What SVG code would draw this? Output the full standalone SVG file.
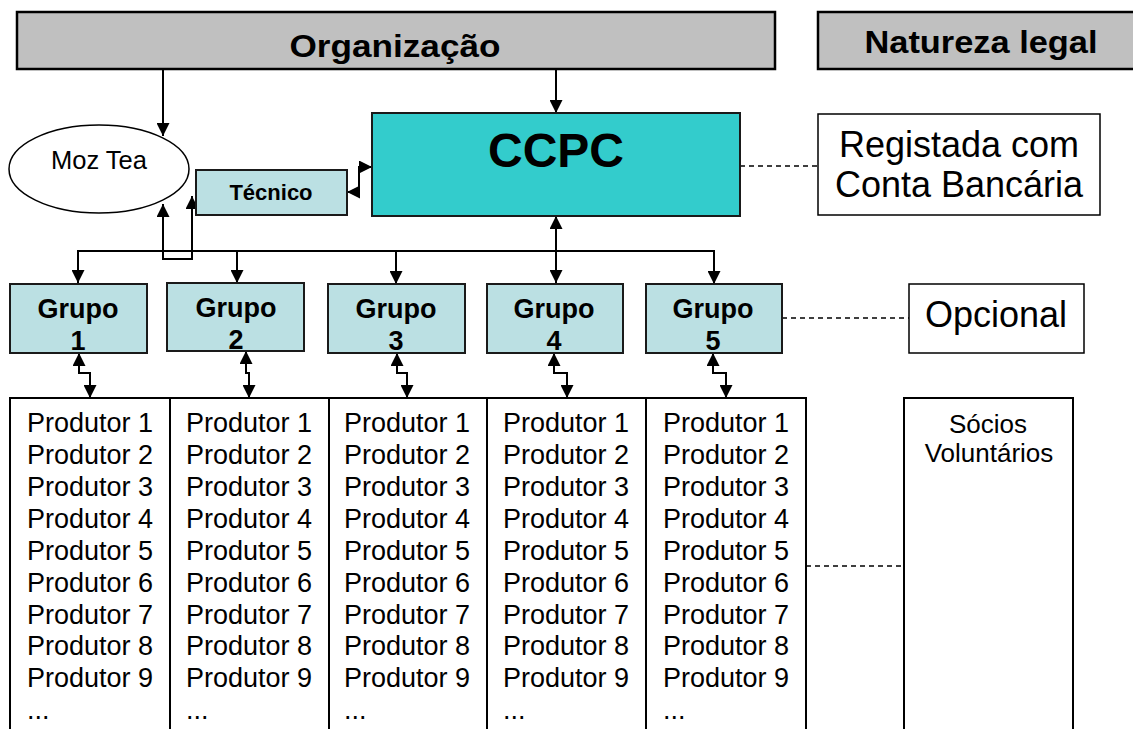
<svg xmlns="http://www.w3.org/2000/svg" width="1133" height="729" viewBox="0 0 1133 729">
  <style>
    .hdr { fill: #c0c0c0; stroke: #000; stroke-width: 2.5; }
    .main { fill: #33cccc; stroke: #1a1a1a; stroke-width: 2; }
    .sub { fill: #bbe0e3; stroke: #1a1a1a; stroke-width: 2; }
    .plain { fill: #fff; stroke: #000; stroke-width: 1.5; }
    .col { fill: #fff; stroke: #000; stroke-width: 2; }
    .con { fill: none; stroke: #000; stroke-width: 2; }
    .dash { fill: none; stroke: #000; stroke-width: 1.5; stroke-dasharray: 5 4; }
    text { font-family: "Liberation Sans", Arial, sans-serif; fill: #000; }
    .b { font-weight: bold; }
    .mid { text-anchor: middle; }
    .prod { font-size: 27px; }
    .grp { font-size: 27px; font-weight: bold; text-anchor: middle; }
  </style>
  <defs>
    <marker id="arrow" viewBox="0 0 12 12" refX="12" refY="6" markerWidth="13" markerHeight="13" markerUnits="userSpaceOnUse" orient="auto-start-reverse">
      <path d="M0,0 L12,6 L0,12 z" fill="#000"/>
    </marker>
  </defs>

  <!-- header bars -->
  <g id="organizacao">
    <rect class="hdr" x="17" y="12" width="758" height="57"/>
    <text class="b mid" x="395" y="57" font-size="32" textLength="211" lengthAdjust="spacingAndGlyphs">Organização</text>
  </g>
  <g id="natureza-legal">
    <rect class="hdr" x="818" y="12" width="320" height="57"/>
    <text class="b mid" x="981" y="53" font-size="31" textLength="233" lengthAdjust="spacingAndGlyphs">Natureza legal</text>
  </g>

  <!-- connectors -->
  <g id="connectors">
    <path class="con" d="M163,69 V136" marker-end="url(#arrow)"/>
    <path class="con" d="M556,69 V113" marker-end="url(#arrow)"/>
    <path class="con" d="M347,192 H359 V167 H372" marker-start="url(#arrow)" marker-end="url(#arrow)"/>
    <path class="con" d="M163,204 V259 H192 V196" marker-start="url(#arrow)" marker-end="url(#arrow)"/>
    <path class="con" d="M78,251 H714"/>
    <path class="con" d="M556,216 V283" marker-start="url(#arrow)" marker-end="url(#arrow)"/>
    <path class="con" d="M78,250 V283" marker-end="url(#arrow)"/>
    <path class="con" d="M237,250 V283" marker-end="url(#arrow)"/>
    <path class="con" d="M396,250 V284" marker-end="url(#arrow)"/>
    <path class="con" d="M714,250 V284" marker-end="url(#arrow)"/>
    <path class="con" d="M79,353 V373 H90 V398" marker-start="url(#arrow)" marker-end="url(#arrow)"/>
    <path class="con" d="M246,351 V373 H249 V398" marker-start="url(#arrow)" marker-end="url(#arrow)"/>
    <path class="con" d="M397,353 V373 H407 V398" marker-start="url(#arrow)" marker-end="url(#arrow)"/>
    <path class="con" d="M554,353 V373 H567 V398" marker-start="url(#arrow)" marker-end="url(#arrow)"/>
    <path class="con" d="M713,353 V373 H726 V398" marker-start="url(#arrow)" marker-end="url(#arrow)"/>
    <path class="dash" d="M740,166 H818"/>
    <path class="dash" d="M782,318 H909"/>
    <path class="dash" d="M806,566 H904"/>
  </g>

  <g id="moz-tea">
    <ellipse cx="99" cy="169" rx="90" ry="44" fill="#fff" stroke="#000" stroke-width="1.5"/>
    <text class="mid" x="99" y="169" font-size="25" textLength="96" lengthAdjust="spacingAndGlyphs">Moz Tea</text>
  </g>
  <g id="tecnico">
    <rect class="sub" x="196" y="170" width="151" height="45"/>
    <text class="b mid" x="271" y="200" font-size="22">Técnico</text>
  </g>
  <g id="ccpc">
    <rect class="main" x="372" y="113" width="368" height="103"/>
    <text class="b mid" x="556" y="167" font-size="48">CCPC</text>
  </g>
  <g id="registada">
    <rect class="plain" x="818" y="114" width="282" height="101"/>
    <text class="mid" x="959" y="157" font-size="36">Registada com</text>
    <text class="mid" x="959" y="197" font-size="36">Conta Bancária</text>
  </g>

  <g id="grupo-1">
    <rect class="sub" x="10" y="284" width="137" height="69"/>
    <text class="grp" x="78" y="318">Grupo</text>
    <text class="grp" x="78" y="350">1</text>
  </g>
  <g id="grupo-2">
    <rect class="sub" x="167" y="283" width="137" height="68"/>
    <text class="grp" x="236" y="317">Grupo</text>
    <text class="grp" x="236" y="349">2</text>
  </g>
  <g id="grupo-3">
    <rect class="sub" x="328" y="284" width="137" height="69"/>
    <text class="grp" x="396" y="318">Grupo</text>
    <text class="grp" x="396" y="350">3</text>
  </g>
  <g id="grupo-4">
    <rect class="sub" x="487" y="284" width="136" height="69"/>
    <text class="grp" x="554" y="318">Grupo</text>
    <text class="grp" x="554" y="350">4</text>
  </g>
  <g id="grupo-5">
    <rect class="sub" x="646" y="284" width="136" height="69"/>
    <text class="grp" x="713" y="318">Grupo</text>
    <text class="grp" x="713" y="350">5</text>
  </g>
  <g id="opcional">
    <rect class="plain" x="909" y="284" width="175" height="69"/>
    <text class="mid" x="996" y="327" font-size="36">Opcional</text>
  </g>

  <g id="produtores-1">
    <rect class="col" x="10" y="398" width="160" height="345"/>
    <text class="prod" x="27" y="432">Produtor 1</text>
    <text class="prod" x="27" y="464">Produtor 2</text>
    <text class="prod" x="27" y="496">Produtor 3</text>
    <text class="prod" x="27" y="528">Produtor 4</text>
    <text class="prod" x="27" y="560">Produtor 5</text>
    <text class="prod" x="27" y="592">Produtor 6</text>
    <text class="prod" x="27" y="624">Produtor 7</text>
    <text class="prod" x="27" y="655">Produtor 8</text>
    <text class="prod" x="27" y="687">Produtor 9</text>
    <text class="prod" x="27" y="719">...</text>
  </g>
  <g id="produtores-2">
    <rect class="col" x="170" y="398" width="159" height="345"/>
    <text class="prod" x="186" y="432">Produtor 1</text>
    <text class="prod" x="186" y="464">Produtor 2</text>
    <text class="prod" x="186" y="496">Produtor 3</text>
    <text class="prod" x="186" y="528">Produtor 4</text>
    <text class="prod" x="186" y="560">Produtor 5</text>
    <text class="prod" x="186" y="592">Produtor 6</text>
    <text class="prod" x="186" y="624">Produtor 7</text>
    <text class="prod" x="186" y="655">Produtor 8</text>
    <text class="prod" x="186" y="687">Produtor 9</text>
    <text class="prod" x="186" y="719">...</text>
  </g>
  <g id="produtores-3">
    <rect class="col" x="329" y="398" width="158" height="345"/>
    <text class="prod" x="344" y="432">Produtor 1</text>
    <text class="prod" x="344" y="464">Produtor 2</text>
    <text class="prod" x="344" y="496">Produtor 3</text>
    <text class="prod" x="344" y="528">Produtor 4</text>
    <text class="prod" x="344" y="560">Produtor 5</text>
    <text class="prod" x="344" y="592">Produtor 6</text>
    <text class="prod" x="344" y="624">Produtor 7</text>
    <text class="prod" x="344" y="655">Produtor 8</text>
    <text class="prod" x="344" y="687">Produtor 9</text>
    <text class="prod" x="344" y="719">...</text>
  </g>
  <g id="produtores-4">
    <rect class="col" x="487" y="398" width="159" height="345"/>
    <text class="prod" x="503" y="432">Produtor 1</text>
    <text class="prod" x="503" y="464">Produtor 2</text>
    <text class="prod" x="503" y="496">Produtor 3</text>
    <text class="prod" x="503" y="528">Produtor 4</text>
    <text class="prod" x="503" y="560">Produtor 5</text>
    <text class="prod" x="503" y="592">Produtor 6</text>
    <text class="prod" x="503" y="624">Produtor 7</text>
    <text class="prod" x="503" y="655">Produtor 8</text>
    <text class="prod" x="503" y="687">Produtor 9</text>
    <text class="prod" x="503" y="719">...</text>
  </g>
  <g id="produtores-5">
    <rect class="col" x="646" y="398" width="160" height="345"/>
    <text class="prod" x="663" y="432">Produtor 1</text>
    <text class="prod" x="663" y="464">Produtor 2</text>
    <text class="prod" x="663" y="496">Produtor 3</text>
    <text class="prod" x="663" y="528">Produtor 4</text>
    <text class="prod" x="663" y="560">Produtor 5</text>
    <text class="prod" x="663" y="592">Produtor 6</text>
    <text class="prod" x="663" y="624">Produtor 7</text>
    <text class="prod" x="663" y="655">Produtor 8</text>
    <text class="prod" x="663" y="687">Produtor 9</text>
    <text class="prod" x="663" y="719">...</text>
  </g>
  <g id="socios">
    <rect class="col" x="904" y="398" width="169" height="345"/>
    <text class="mid" x="988" y="433" font-size="26">Sócios</text>
    <text class="mid" x="989" y="462" font-size="26">Voluntários</text>
  </g>
</svg>
